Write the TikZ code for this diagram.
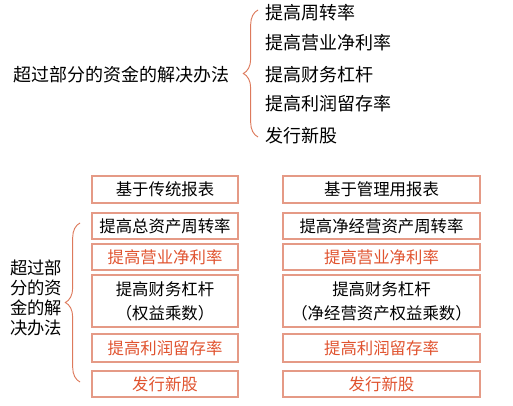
\documentclass[tikz,border=0pt]{standalone}
\usepackage{fontspec}
\setmainfont{Noto Sans CJK SC}
\usetikzlibrary{positioning,decorations.pathreplacing}
\definecolor{hot}{HTML}{E0532F}
\definecolor{edge}{HTML}{E59A86}
\definecolor{curl}{HTML}{DD7A5C}

\begin{document}
\begin{tikzpicture}[x=0.75pt,y=-0.75pt,
  every node/.style={font=\fontsize{13.5pt}{18pt}\selectfont,inner sep=0pt},
  item/.style={anchor=west},
  block/.style={draw=edge,line width=0.8pt,rectangle,align=center,outer sep=0pt,
    font=\fontsize{12.3pt}{18pt}\selectfont},
  lblock/.style={block,minimum width=109.5pt},
  rblock/.style={block,minimum width=147.75pt},
  hi/.style={text=hot},
  curly/.style={draw=curl,line width=0.7pt,decorate,decoration={brace,amplitude=11pt,aspect=0.5}}]

\useasboundingbox (0,0) rectangle (513,406);

        \node (T) at (121.5,75) {超过部分的资金的解决办法};

        \node (I1) [item] at (265,13) {提高周转率};
        \node (I2) [item] at (265,43) {提高营业净利率};
        \node (I3) [item] at (265,75) {提高财务杠杆};
        \node (I4) [item] at (265,104) {提高利润留存率};
        \node (I5) [item] at (265,136) {发行新股};
        \draw[curly] (258,137) -- (258,10);

        \node (L1) [lblock,minimum height=20.25pt] at (165,189.5) {基于传统报表};
        \node (L2) [lblock,minimum height=19.5pt] at (165,226) {提高总资产周转率};
        \node (L3) [lblock,minimum height=19.5pt,hi] at (165,257) {提高营业净利率};
        \node (L4) [lblock,minimum height=39pt] at (165,301) {提高财务杠杆\\（权益乘数）};
        \node (L5) [lblock,minimum height=21pt,hi] at (165,348) {提高利润留存率};
        \node (L6) [lblock,minimum height=19.5pt,hi] at (165,384) {发行新股};

        \node (R1) [rblock,minimum height=20.25pt] at (381.5,189.5) {基于管理用报表};
        \node (R2) [rblock,minimum height=19.5pt] at (381.5,226) {提高净经营资产周转率};
        \node (R3) [rblock,minimum height=19.5pt,hi] at (381.5,257) {提高营业净利率};
        \node (R4) [rblock,minimum height=39pt] at (381.5,301) {提高财务杠杆\\（净经营资产权益乘数）};
        \node (R5) [rblock,minimum height=21pt,hi] at (381.5,348) {提高利润留存率};
        \node (R6) [rblock,minimum height=19.5pt,hi] at (381.5,384) {发行新股};

        \node (S) [align=left,font=\fontsize{13pt}{15pt}\selectfont] at (36,298) {超过部\\分的资\\金的解\\决办法};
        \draw[curly] (80,382) -- (80,223);
      \end{tikzpicture}
\end{document}
